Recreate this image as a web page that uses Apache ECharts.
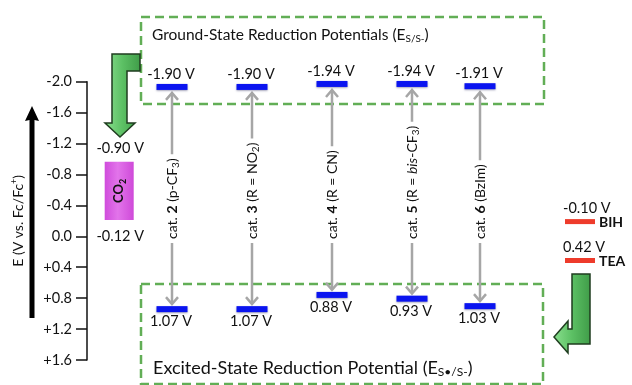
<!DOCTYPE html>
<html>
<head>
<meta charset="utf-8">
<script src="https://cdn.jsdelivr.net/npm/echarts@6/dist/echarts.min.js"></script>
<style>
  html, body { margin: 0; padding: 0; background: #fff; }
  #chart { width: 632px; height: 385px; }
</style>
</head>
<body>
<div id="chart"></div>
<script>
// Reduction potentials of the photocatalysts, V vs. Fc/Fc+
const catalystLabels = [
  'cat. {b|2} {r|(p-CF}{s|3}{r|)}',
  'cat. {b|3} {r|(R = NO}{s|2}{r|)}',
  'cat. {b|4} {r|(R = CN)}',
  'cat. {b|5} {r|(R = }{i|bis}{r|-CF}{s|3}{r|)}',
  'cat. {b|6} {r|(BzIm)}'
];
const groundState = [-1.90, -1.90, -1.94, -1.94, -1.91];
const excitedState = [1.07, 1.07, 0.88, 0.93, 1.03];

// CO2 reduction window
const co2Window = [-0.90, -0.12];

// Sacrificial donors
const donorNames = ['BIH', 'TEA'];
const donorPotentials = [-0.10, 0.42];

// Left potential scale
const tickLabels = ['-2.0', '-1.6', '-1.2', '-0.8', '-0.4', '0.0', '+0.4', '+0.8', '+1.2', '+1.6'];

// Horizontal slots of the columns in the diagram
const catalystSlot = [2, 3, 4, 5, 5.85];
const co2Slot = 1.34;
const donorSlot = 7.1;

const FONT = 'Lato';
const INK = '#111';
const BLUE = '#0a14f0';
const RED = '#ee3b2b';
const GREY = '#a6a6a6';
const GREEN = '#62ae56';

function tok(size, extra) {
  return Object.assign({ fontSize: size, fontFamily: FONT, fill: INK, fontWeight: 'normal' }, extra || {});
}
function richSet(size) {
  return {
    r: tok(size, { lineHeight: size + 3 }),
    b: tok(size, { fontWeight: 'bold', lineHeight: size + 3 }),
    i: tok(size, { fontStyle: 'italic', lineHeight: size + 3 }),
    s: tok(Math.round(size * 0.68), { verticalAlign: 'bottom', lineHeight: size * 0.68 })
  };
}

const chart = echarts.init(document.getElementById('chart'), null, { renderer: 'canvas' });

function levelText(v) { return v.toFixed(2) + ' V'; }

function renderLevel(params, api) {
  const p = api.coord([api.value(0), api.value(1)]);
  const above = api.value(2) === 0;
  const w = 31, h = 6;
  return {
    type: 'group',
    children: [
      { type: 'rect', shape: { x: p[0] - w / 2, y: p[1] - h / 2, width: w, height: h },
        style: { fill: BLUE, shadowBlur: 2, shadowColor: 'rgba(0,0,60,0.35)', shadowOffsetY: 1 } },
      { type: 'text', x: p[0] - 1, y: above ? p[1] - h / 2 - 2 : p[1] + h / 2 + 2,
        style: { text: levelText(api.value(1)), fontSize: 14.5, fontFamily: FONT, fill: INK,
                 align: 'center', verticalAlign: above ? 'bottom' : 'top' } }
    ]
  };
}

function renderArrow(params, api) {
  const x = api.value(0);
  const top = api.coord([x, api.value(1)]);
  const bot = api.coord([x, api.value(2)]);
  const i = api.value(3);
  const cx = Math.round(top[0]);
  const y1 = top[1] + 6, y2 = bot[1] - 5;
  const ls = { stroke: GREY, lineWidth: 2.5, fill: null, lineJoin: 'miter' };
  return {
    type: 'group',
    children: [
      { type: 'line', shape: { x1: cx, y1: y1 + 1, x2: cx, y2: y2 - 1 }, style: ls },
      { type: 'polyline', shape: { points: [[cx - 6, y1 + 7], [cx, y1], [cx + 6, y1 + 7]] }, style: ls },
      { type: 'polyline', shape: { points: [[cx - 6, y2 - 7], [cx, y2], [cx + 6, y2 - 7]] }, style: ls },
      { type: 'text', x: cx, y: 243, rotation: Math.PI / 2,
        style: { text: catalystLabels[i], rich: richSet(14), fontSize: 14, fontFamily: FONT, fill: INK,
                 align: 'left', verticalAlign: 'middle', backgroundColor: '#fff', padding: [0, 4] } }
    ]
  };
}

function renderCO2(params, api) {
  const x = api.value(0);
  const a = api.coord([x, api.value(1)]);
  const b = api.coord([x, api.value(2)]);
  const w = 29;
  return {
    type: 'group',
    children: [
      { type: 'rect', shape: { x: a[0] - w / 2, y: a[1], width: w, height: b[1] - a[1] },
        style: { fill: new echarts.graphic.LinearGradient(0, 0, 1, 0, [
          { offset: 0, color: '#d04cdc' }, { offset: 0.45, color: '#e274ea' }, { offset: 1, color: '#cf4ad9' }]) } },
      { type: 'text', x: a[0], y: (a[1] + b[1]) / 2, rotation: Math.PI / 2,
        style: { text: 'CO{s|2}', rich: { s: tok(9, { fontWeight: 'bold', verticalAlign: 'bottom', lineHeight: 9 }) },
                 fontSize: 13, fontWeight: 'bold', fontFamily: FONT, fill: INK, lineHeight: 16,
                 align: 'center', verticalAlign: 'middle' } },
      { type: 'text', x: a[0] + 1, y: a[1] - 6,
        style: { text: levelText(api.value(1)), fontSize: 14.5, fontFamily: FONT, fill: INK,
                 align: 'center', verticalAlign: 'bottom' } },
      { type: 'text', x: a[0] + 1, y: b[1] + 9,
        style: { text: levelText(api.value(2)), fontSize: 14.5, fontFamily: FONT, fill: INK,
                 align: 'center', verticalAlign: 'top' } }
    ]
  };
}

function renderDonor(params, api) {
  const p = api.coord([api.value(0), api.value(1)]);
  const name = donorNames[api.value(2)];
  const w = 30, h = 5;
  return {
    type: 'group',
    children: [
      { type: 'rect', shape: { x: p[0] - w / 2, y: p[1] - h / 2, width: w, height: h }, style: { fill: RED } },
      { type: 'text', x: p[0] - w / 2 - 2, y: p[1] - h / 2 - 3,
        style: { text: levelText(api.value(1)), fontSize: 14.5, fontFamily: FONT, fill: INK,
                 align: 'left', verticalAlign: 'bottom' } },
      { type: 'text', x: p[0] + w / 2 + 4, y: p[1] + 1,
        style: { text: name, fontSize: 14, fontWeight: 'bold', fontFamily: FONT, fill: INK,
                 align: 'left', verticalAlign: 'middle' } }
    ]
  };
}

const levelData = [];
catalystSlot.forEach((s, i) => {
  levelData.push([s, groundState[i], 0]);
  levelData.push([s, excitedState[i], 1]);
});
const arrowData = catalystSlot.map((s, i) => [s, groundState[i], excitedState[i], i]);
const donorData = donorPotentials.map((v, i) => [donorSlot, v, i]);

const dashed = { fill: 'none', stroke: GREEN, lineWidth: 2.5, lineDash: [9, 5] };
const greenFill = new echarts.graphic.LinearGradient(0, 0, 1, 0, [
  { offset: 0, color: '#8be08f' }, { offset: 0.5, color: '#5cc064' }, { offset: 1, color: '#3f9c48' }]);

const option = {
  animation: false,
  backgroundColor: '#fff',
  grid: [
    { left: 87, top: 81.7, width: 1, bottom: 25 },
    { left: 12, right: 0, top: 81.7, bottom: 25 }
  ],
  xAxis: [
    { gridIndex: 0, type: 'value', show: false, min: 0, max: 1 },
    { gridIndex: 1, type: 'value', show: false, min: 0, max: 7.75 }
  ],
  yAxis: [
    {
      gridIndex: 0, type: 'value', inverse: true, min: -2.0, max: 1.6, interval: 0.4,
      axisLine: { show: true, lineStyle: { color: INK, width: 1.5 } },
      axisTick: { show: true, inside: false, length: 11, lineStyle: { color: INK, width: 1.5 } },
      splitLine: { show: false },
      axisLabel: { color: INK, fontSize: 14.5, fontFamily: FONT, margin: 15,
                   formatter: (v, idx) => tickLabels[idx] },
      name: 'E (V vs. Fc/Fc{sup|+})',
      nameLocation: 'middle', nameRotate: 90, nameGap: 61,
      nameTextStyle: { color: INK, fontSize: 14, fontFamily: FONT, lineHeight: 16,
        rich: { sup: { color: INK, fontSize: 9, fontFamily: FONT, verticalAlign: 'top', lineHeight: 9 } } }
    },
    { gridIndex: 1, type: 'value', inverse: true, min: -1.97, max: 1.75, show: false }
  ],
  graphic: [
    // dashed frames
    { type: 'rect', z: 1, shape: { x: 141, y: 17, width: 403, height: 87 }, style: dashed },
    { type: 'rect', z: 1, shape: { x: 141, y: 284, width: 402, height: 100 }, style: dashed },
    // frame titles
    { type: 'text', z: 2, x: 152, y: 35,
      style: { text: 'Ground-State Reduction Potentials (E{s|S/S-})', fontSize: 15.5, fontFamily: FONT, fill: INK,
               verticalAlign: 'middle', lineHeight: 18,
               rich: { s: tok(10, { verticalAlign: 'bottom', lineHeight: 10 }) } } },
    { type: 'text', z: 2, x: 153, y: 368,
      style: { text: 'Excited-State Reduction Potential (E{s|S\u2022/S-})', fontSize: 18, fontFamily: FONT, fill: INK,
               verticalAlign: 'middle', lineHeight: 21,
               rich: { s: tok(12, { verticalAlign: 'bottom', lineHeight: 12 }) } } },
    // bent green arrow towards the CO2 window
    { type: 'polygon', z: 3,
      shape: { points: [[112, 54], [140, 54], [140, 71], [127, 71], [127, 123], [135, 123], [120, 137], [105, 123], [112, 123]] },
      style: { fill: greenFill, stroke: '#1f3d1f', lineWidth: 1.5 } },
    // bent green arrow from the donors back to the excited state
    { type: 'polygon', z: 3,
      shape: { points: [[572, 274], [590, 274], [590, 344], [568, 344], [568, 353], [554, 337], [568, 321], [568, 329], [572, 329]] },
      style: { fill: greenFill, stroke: '#1f3d1f', lineWidth: 1.5 } },
    // potential direction arrow
    { type: 'polygon', z: 3,
      shape: { points: [[29.5, 318], [29.5, 120], [25, 121], [32, 106], [39, 121], [34.5, 120], [34.5, 318]] },
      style: { fill: '#000' } }
  ],
  series: [
    { type: 'custom', name: 'arrows', xAxisIndex: 1, yAxisIndex: 1, silent: true, z: 4,
      renderItem: renderArrow, data: arrowData },
    { type: 'custom', name: 'levels', xAxisIndex: 1, yAxisIndex: 1, silent: true, z: 5,
      renderItem: renderLevel, data: levelData },
    { type: 'custom', name: 'CO2', xAxisIndex: 1, yAxisIndex: 1, silent: true, z: 5,
      renderItem: renderCO2, data: [[co2Slot, co2Window[0], co2Window[1]]] },
    { type: 'custom', name: 'donors', xAxisIndex: 1, yAxisIndex: 1, silent: true, z: 5,
      renderItem: renderDonor, data: donorData }
  ]
};

chart.setOption(option);
</script>
</body>
</html>
